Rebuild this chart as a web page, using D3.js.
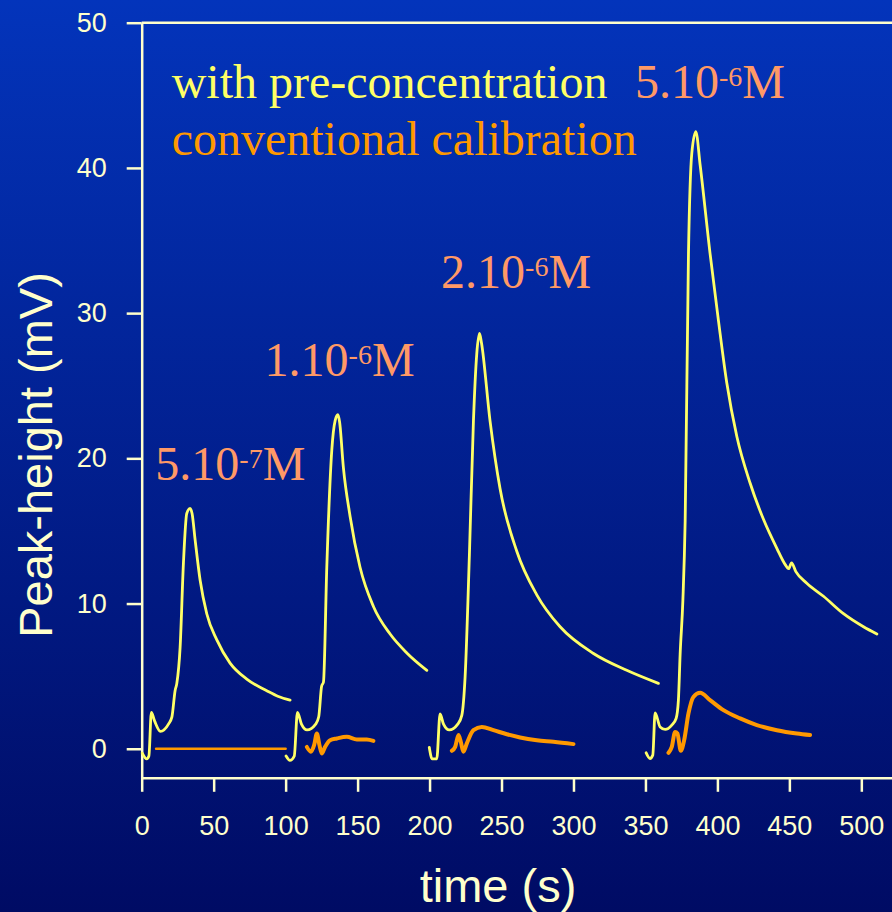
<!DOCTYPE html>
<meta charset="utf-8">
<title>Peak-height vs time</title>

<style>
    body { margin: 0; background: #000c66; }
    .trace { fill: none; stroke-linejoin: round; stroke-linecap: round; }
    .axis path, .axis line { stroke: #ffffcc; stroke-width: 2.5px; }
    .axis text { fill: #ffffcc; font-family: "Liberation Sans", Arial, sans-serif; font-size: 27px; }
    .serif { font-family: "Liberation Serif", "Times New Roman", serif; font-size: 48px; }
</style>

<body>
<script src="https://d3js.org/d3.v7.min.js"></script>

<script>
// traces: [time (s), peak-height (mV)]
var pre1 = [[0.4,-0.3],[3.5,-0.7],[5,-0.5],[6.7,2.5],[9,1.9],[13,1.2],[18.6,1.7],[21,2.2],[23.2,4.0],[24.4,4.5],[26.7,7.0],[29,12.8],[31.3,16.2],[33.6,16.55],[35,16.2],[37.1,14.4],[40.6,11.6],[45.2,9.3],[52.2,7.5],[61.4,5.9],[73,4.8],[86.9,4.0],[95,3.6],[103.1,3.35]];
var pre2 = [[100.3,-0.5],[103,-0.8],[106,-0.5],[108.2,2.5],[111,1.7],[114.9,1.3],[120.9,1.7],[123,2.2],[125,4.3],[126.3,4.6],[128.6,12.5],[132.1,20.6],[134.4,22.6],[136.3,23.0],[137.5,22.5],[140.1,19.4],[144.8,16],[151.7,12.5],[161,9.8],[172.6,7.9],[184.2,6.6],[198.1,5.4]];
var pre3 = [[199.8,0.1],[201.8,-0.7],[205,-0.7],[207.3,2.4],[209.7,1.7],[213.7,1.3],[219.6,1.7],[222.4,2.3],[224.7,4.95],[227.7,13.4],[230.5,22.6],[232.8,27.2],[234.7,28.6],[236,28],[242,22.6],[249,17.9],[260.6,13.6],[274.5,10.6],[290.7,8.4],[313.9,6.56],[337,5.4],[359,4.5]];
var pre4 = [[350.5,-0.28],[353.2,-0.67],[355.1,-0.44],[356.7,2.47],[360.2,1.5],[363.7,1.33],[368.3,1.63],[371.3,2.08],[372.9,3.35],[374.1,6.5],[376,10.2],[377.6,15.7],[379.9,34.1],[382.2,41],[385,42.5],[388,40.2],[394.9,34.1],[400.7,29.5],[406.5,25.2],[413.5,21.5],[422.7,18.3],[432,15.8],[441.3,13.8],[447,12.7],[449.5,12.4],[451.5,12.8],[454.5,12.2],[462.1,11.4],[473.7,10.5],[487.6,9.3],[501.5,8.4],[510.8,7.9]];

var conv1 = [[10,0],[100,0]];
var conv2 = [[114.7,0.13],[117.5,-0.2],[119.8,0.25],[121.7,1.05],[123.5,0.25],[125.1,-0.32],[127.4,0.13],[130.9,0.59],[135.6,0.71],[142.5,0.82],[149.5,0.64],[156.4,0.64],[161,0.54]];
var conv3 = [[215.5,-0.14],[217.8,0.13],[220.1,0.94],[221.7,0.48],[223.5,-0.2],[225.9,0.37],[230.5,1.28],[236.3,1.5],[244.4,1.28],[253.7,1.0],[262.9,0.78],[274.5,0.59],[286.1,0.48],[300,0.32]];
var conv4 = [[366,-0.28],[368.3,0.13],[370.6,1.16],[372.2,1.05],[374.6,-0.14],[376.9,0.59],[379.9,2.43],[383.3,3.57],[388,3.85],[394.9,3.35],[404.2,2.66],[415.8,2.09],[427.4,1.63],[441.3,1.28],[455.2,1.05],[464.4,0.94]];

// tick labels
var xTicks = [0, 50, 100, 150, 200, 250, 300, 350, 400, 450, 500];
var yTicks = [0, 10, 20, 30, 40, 50];

// concentration labels, anchored in data units
var labelMant = ["5.10", "1.10", "2.10", "5.10"];
var labelExp = ["-7", "-6", "-6", "-6"];
var labelT = [9.5, 85.4, 208, 342.7];
var labelV = [18.5, 25.7, 31.7, 44.8];

var legendText = ["with pre-concentration", "conventional calibration"];
var legendT = [20.8, 20.8];
var legendV = [44.8, 40.9];

var W = 892, H = 912;

var x = d3.scaleLinear().domain([0, 522]).range([141.7, 893]);
var y = d3.scaleLinear().domain([-2, 50]).range([777.8, 22.7]);

var svg = d3.select("body").append("svg")
    .attr("width", W)
    .attr("height", H);

// background gradient
var grad = svg.append("defs").append("linearGradient")
    .attr("id", "bg").attr("x1", 0).attr("y1", 0).attr("x2", 0).attr("y2", 1);
grad.append("stop").attr("offset", "0%").attr("stop-color", "#0334bb");
grad.append("stop").attr("offset", "100%").attr("stop-color", "#000b64");
svg.append("rect").attr("width", W).attr("height", H).attr("fill", "url(#bg)");

// axes
svg.append("g")
    .attr("class", "axis")
    .attr("transform", "translate(0," + y(-2) + ")")
    .call(d3.axisBottom(x).tickValues(xTicks).tickSize(14).tickSizeOuter(0).tickPadding(24));

svg.append("g")
    .attr("class", "axis")
    .attr("transform", "translate(" + x(0) + ",0)")
    .call(d3.axisLeft(y).tickValues(yTicks).tickSize(15).tickSizeOuter(0).tickPadding(20));

// top frame line
svg.append("line")
    .attr("x1", x(0)).attr("x2", x(522))
    .attr("y1", y(50)).attr("y2", y(50))
    .style("stroke", "#ffffcc").style("stroke-width", "2.5px");

// traces
var line = d3.line()
    .curve(d3.curveMonotoneX)
    .x(function(d) { return x(d[0]); })
    .y(function(d) { return y(d[1]); });

[pre1, pre2, pre3, pre4].forEach(function(s) {
    svg.append("path").datum(s)
        .attr("class", "trace")
        .style("stroke", "#ffff66")
        .style("stroke-width", "2.8px")
        .attr("d", line);
});

[conv1, conv2, conv3, conv4].forEach(function(s, i) {
    svg.append("path").datum(s)
        .attr("class", "trace")
        .style("stroke", "#ff9900")
        .style("stroke-width", i == 0 ? "2.5px" : "4px")
        .attr("d", line);
});

// legend
svg.selectAll(".legend")
    .data(legendText)
    .enter().append("text")
    .attr("class", "serif")
    .attr("x", function(d, i) { return x(legendT[i]); })
    .attr("y", function(d, i) { return y(legendV[i]); })
    .style("fill", function(d, i) { return i == 0 ? "#ffff66" : "#ff9900"; })
    .text(function(d) { return d; });

// concentration labels
labelMant.forEach(function(m, i) {
    var t = svg.append("text")
        .attr("class", "serif")
        .attr("x", x(labelT[i]))
        .attr("y", y(labelV[i]))
        .style("fill", "#ff9966");
    t.append("tspan").text(m);
    t.append("tspan").attr("dy", -12).style("font-size", "28px").text(labelExp[i]);
    t.append("tspan").attr("dy", 12).text("M");
});

// axis titles
svg.append("text")
    .attr("x", 498)
    .attr("y", 902)
    .attr("text-anchor", "middle")
    .style("font-family", "'Liberation Sans', Arial, sans-serif")
    .style("font-size", "47px")
    .style("fill", "#ffffcc")
    .text("time (s)");

svg.append("text")
    .attr("transform", "translate(52,455) rotate(-90)")
    .attr("text-anchor", "middle")
    .style("font-family", "'Liberation Sans', Arial, sans-serif")
    .style("font-size", "47px")
    .style("fill", "#ffffcc")
    .text("Peak-height (mV)");
</script>
</body>
